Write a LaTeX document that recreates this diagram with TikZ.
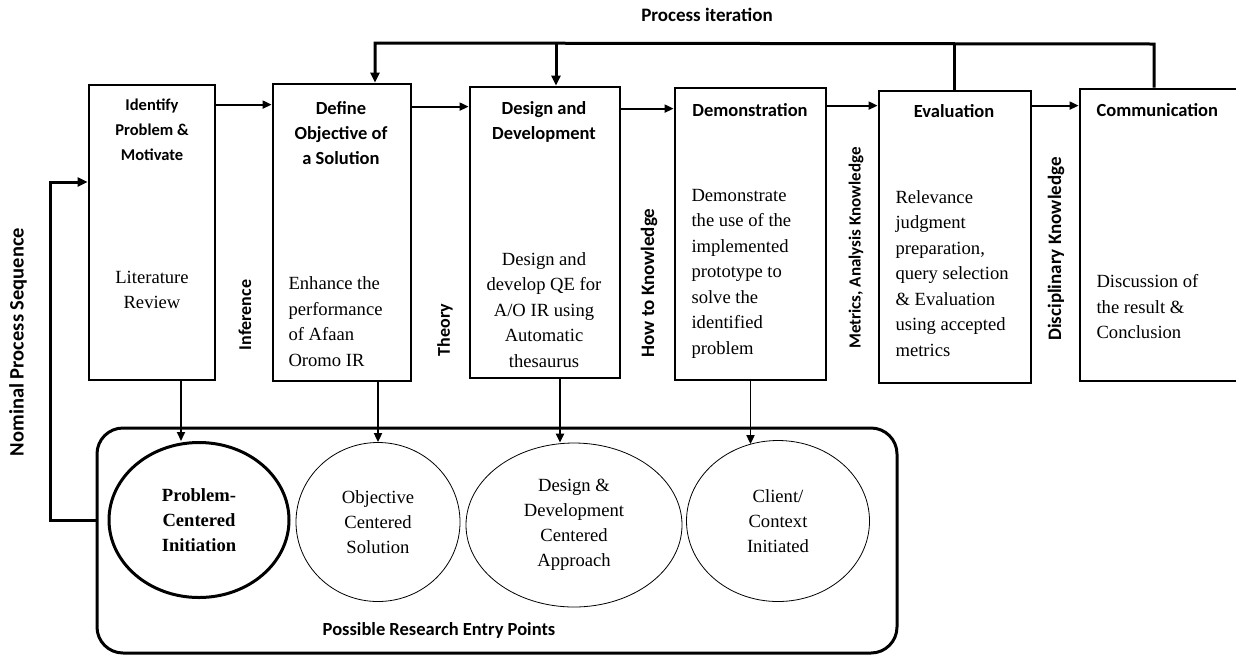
\documentclass[tikz,border=0pt]{standalone}
\usepackage{fontspec}
\setmainfont{Liberation Serif}
\newfontfamily\calibri{Carlito}
\usetikzlibrary{arrows.meta,shapes.geometric}

\tikzset{
  stagebox/.style={draw, line width=2.8pt, inner sep=0pt},
  title/.style={font=\calibri\bfseries\fontsize{18.5}{25}\selectfont, align=center},
  body/.style={font=\fontsize{18.6}{25.5}\selectfont},
  sidelabel/.style={font=\calibri\bfseries\fontsize{#1}{20}\selectfont, rotate=90},
  sidelabel/.default=18,
  entry/.style={draw, ellipse, line width=0.8pt, inner sep=0pt, align=center,
    font=\fontsize{18.6}{25}\selectfont},
  arr/.style={line width=1.8pt, -{Triangle[length=9pt,width=8pt]}},
  fb/.style={line width=3pt},
}

\begin{document}
\begin{tikzpicture}[x=1pt,y=-1pt]
\clip (0,0) rectangle (1236,657);
\fill[white] (0,0) rectangle (1236,657);

% stages
\node[stagebox, minimum width=126, minimum height=295] (b1) at (152,232.5) {};
\node[stagebox, minimum width=138, minimum height=297] (b2) at (342,232.5) {};
\node[stagebox, minimum width=150, minimum height=291] (b3) at (545,232.5) {};
\node[stagebox, minimum width=151, minimum height=292] (b4) at (750.5,234) {};
\node[stagebox, minimum width=152, minimum height=292] (b5) at (955,237) {};
\node[stagebox, minimum width=170, minimum height=292] (b6) at (1165,235) {};

\node[title, font=\calibri\bfseries\fontsize{16.5}{25}\selectfont] (t1) at (152,130) {Identify\\Problem \&\\Motivate};
\node[title] (t2) at (341,133) {Define\\Objective of\\a Solution};
\node[title] (t3) at (544,121.5) {Design and\\Development};
\node[title] (t4) at (750,110) {Demonstration};
\node[title] (t5) at (954,111) {Evaluation};
\node[title, anchor=west] (t6) at (1093,110) {Communication};

\node[body, align=center] (d1) at (152,290) {Literature\\Review};
\node[body, align=left, anchor=west] (d2) at (285,321.5) {Enhance the\\performance\\of Afaan\\Oromo IR};
\node[body, align=center] (d3) at (544,310) {Design and\\develop QE for\\A/O IR using\\Automatic\\thesaurus};
\node[body, align=left, anchor=west] (d4) at (688,273.5) {Demonstrate\\the use of the\\implemented\\prototype to\\solve the\\identified\\problem};
\node[body, align=left, anchor=west] (d5) at (892,273.5) {Relevance\\judgment\\preparation,\\query selection\\\& Evaluation\\using accepted\\metrics};
\node[body, align=left, anchor=west] (d6) at (1093,307) {Discussion of\\the result \&\\Conclusion};

% knowledge between stages
\node[sidelabel] (k1) at (245,315) {Inference};
\node[sidelabel] (k2) at (445,330) {Theory};
\node[sidelabel=19] (k3) at (649,283) {How to Knowledge};
\node[sidelabel=17] (k4) at (856,248) {Metrics, Analysis Knowledge};
\node[sidelabel=19] (k5) at (1056,249) {Disciplinary Knowledge};
\node[sidelabel=20.5] (nps) at (18,342) {Nominal Process Sequence};

\draw[arr] ([yshift=-21pt]b1.north east) -- ([yshift=-22pt]b2.north west);
\draw[arr] ([yshift=-24pt]b2.north east) -- ([yshift=-21pt]b3.north west);
\draw[arr] ([yshift=-23pt]b3.north east) -- ([yshift=-22pt]b4.north west);
\draw[arr] ([yshift=-19pt]b4.north east) -- ([yshift=-16pt]b5.north west);
\draw[arr] ([yshift=-16pt]b5.north east) -- ([yshift=-18pt]b6.north west);

% process iteration
\node[font=\calibri\bfseries\fontsize{19}{22}\selectfont] (pit) at (707,15) {Process iteration};
\coordinate (it2) at (375,43);
\coordinate (it3) at (556,43);
\coordinate (it5) at (954,44);
\coordinate (it6) at (1154,44);
\draw[fb, -{Triangle[length=10pt,width=9pt]}] (b6.north -| it6) -- (it6) -- (it2) -- (b2.north -| it2);
\draw[fb] (b5.north -| it5) -- (it5);
\draw[fb, -{Triangle[length=10pt,width=9pt]}] (it3) -- (b3.north -| it3);

% entry points
\node[draw, rounded corners=26pt, line width=3pt, minimum width=800, minimum height=225] (ep) at (497,540.5) {};
\node[entry, line width=3pt, font=\bfseries\fontsize{18.6}{25}\selectfont, minimum width=180, minimum height=155] (e1) at (199,520) {Problem-\\Centered\\Initiation};
\node[entry, minimum width=164, minimum height=159] (e2) at (378,522) {Objective\\Centered\\Solution};
\node[entry, minimum width=216, minimum height=164] (e3) at (574,525) {Design \&\\Development\\Centered\\Approach};
\node[entry, minimum width=183, minimum height=161] (e4) at (778,521) {Client/\\Context\\Initiated};
\node[font=\calibri\bfseries\fontsize{18.5}{22}\selectfont] (pre) at (439,630) {Possible Research Entry Points};

\draw[arr] ([xshift=29pt]b1.south) -- ([xshift=29pt]b1.south |- e1.north);
\draw[arr] (b2.south -| e2.north) -- (e2.north);
\draw[arr, line width=2.4pt] ([xshift=15pt]b3.south) -- ([xshift=15pt]b3.south |- e3.north);
\draw[arr] (b4.south) -- ([yshift=-4pt]b4.south |- e4.north);

\coordinate (n1) at (50,520);
\coordinate (n2) at (50,182);
\draw[fb, -{Triangle[length=10pt,width=9pt]}] (ep.west |- n1) -- (n1) -- (n2) -- (b1.west |- n2);
\end{tikzpicture}
\end{document}
